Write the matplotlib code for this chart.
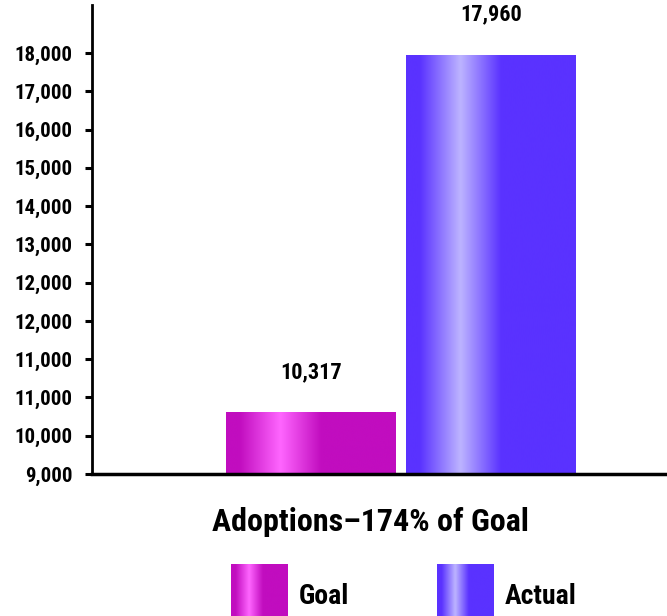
import numpy as np
import matplotlib
matplotlib.use("Agg")
import matplotlib.pyplot as plt
from matplotlib import font_manager
from matplotlib.colors import LinearSegmentedColormap

# chart data
categories = ["Goal", "Actual"]
values = [10317, 17960]
tick_labels = ["9,000", "10,000", "11,000", "11,000", "12,000", "12,000",
               "13,000", "14,000", "15,000", "16,000", "17,000", "18,000"]
title = "Adoptions\u2013174% of Goal"
base_colors = ["#c10dbf", "#5a32ff"]
shine_colors = ["#ff66ff", "#bdb4ff"]

# pick a narrow font if there is one
names = {f.name for f in font_manager.fontManager.ttflist}
narrow = [n for n in ["Liberation Sans Narrow", "DejaVu Sans Condensed",
                      "Roboto Condensed", "Open Sans Condensed", "Noto Sans Condensed"]
          if n in names]
if not narrow:
    narrow = [n for n in sorted(names) if "Narrow" in n or "Condensed" in n]
plt.rcParams["font.family"] = narrow[:1] + ["Liberation Sans", "DejaVu Sans"]
plt.rcParams["font.weight"] = "bold"


def shine_cmap(base, shine):
    # metallic look: flat, bright streak about a third in, then flat again
    return LinearSegmentedColormap.from_list(
        "shine", [(0, base), (0.08, base), (0.32, shine), (0.56, base), (1, base)])


def fill_gradient(ax, patch, cmap):
    x, y = patch.get_x(), patch.get_y()
    w, h = patch.get_width(), patch.get_height()
    grad = np.linspace(0, 1, 256).reshape(1, -1)
    im = ax.imshow(grad, cmap=cmap, aspect="auto", extent=(x, x + w, y, y + h),
                   interpolation="bicubic", zorder=2)
    im.set_clip_path(patch)


fig = plt.figure(figsize=(6.67, 6.16), dpi=100)
ax = fig.add_axes([92 / 667, 1 - 474 / 616, 575 / 667, 469 / 616])

tick_pos = np.linspace(9000, 18000, len(tick_labels))
step = tick_pos[1] - tick_pos[0]

bars = ax.bar(range(len(values)), np.array(values) - 9000, bottom=9000,
              width=0.944, facecolor="none", edgecolor="none")
for bar, base, shine in zip(bars, base_colors, shine_colors):
    fill_gradient(ax, bar, shine_cmap(base, shine))

for i, v in enumerate(values):
    ax.annotate(f"{v:,}", xy=(i, v), xytext=(0, 29), textcoords="offset points",
                ha="center", va="center", fontsize=16, fontweight="bold")

ax.set_xlim(-1.217, 1.978)
ax.set_ylim(9000, 9000 + 12.255 * step)
ax.set_yticks(tick_pos)
ax.set_yticklabels(tick_labels, fontsize=15, fontweight="bold")
ax.set_xticks([])
ax.tick_params(axis="y", direction="out", length=5, width=2.2, pad=9)
for s in ["top", "right"]:
    ax.spines[s].set_visible(False)
ax.spines["left"].set_linewidth(2)
ax.spines["bottom"].set_linewidth(2.5)

fig.text(370 / 667, 1 - 522 / 616, title, ha="center", va="center",
         fontsize=23, fontweight="bold")

# legend drawn by hand so the swatches keep the gradient
swatch_x = [231, 437]
text_x = [299, 505]
for name, base, shine, sx, tx in zip(categories, base_colors, shine_colors, swatch_x, text_x):
    sw = fig.add_axes([sx / 667, 0, 57 / 667, 52 / 616])
    sw.imshow(np.linspace(0, 1, 256).reshape(1, -1), cmap=shine_cmap(base, shine),
              aspect="auto", interpolation="bicubic")
    sw.axis("off")
    fig.text(tx / 667, 1 - 596 / 616, name, ha="left", va="center",
             fontsize=20, fontweight="bold")

fig.savefig("out.png", dpi=100)
